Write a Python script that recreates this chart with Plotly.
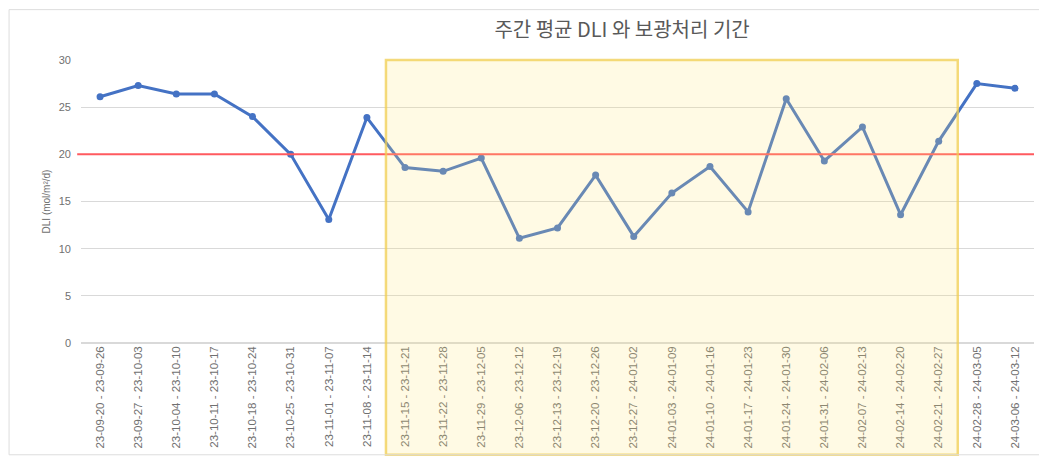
import plotly.graph_objects as go

weeks = [
    "23-09-20 - 23-09-26", "23-09-27 - 23-10-03", "23-10-04 - 23-10-10", "23-10-11 - 23-10-17",
    "23-10-18 - 23-10-24", "23-10-25 - 23-10-31", "23-11-01 - 23-11-07", "23-11-08 - 23-11-14",
    "23-11-15 - 23-11-21", "23-11-22 - 23-11-28", "23-11-29 - 23-12-05", "23-12-06 - 23-12-12",
    "23-12-13 - 23-12-19", "23-12-20 - 23-12-26", "23-12-27 - 24-01-02", "24-01-03 - 24-01-09",
    "24-01-10 - 24-01-16", "24-01-17 - 24-01-23", "24-01-24 - 24-01-30", "24-01-31 - 24-02-06",
    "24-02-07 - 24-02-13", "24-02-14 - 24-02-20", "24-02-21 - 24-02-27", "24-02-28 - 24-03-05",
    "24-03-06 - 24-03-12",
]
dli = [26.1, 27.3, 26.4, 26.4, 24.0, 20.0, 13.1, 23.9,
       18.6, 18.2, 19.6, 11.1, 12.2, 17.8, 11.3, 15.9,
       18.7, 13.9, 25.9, 19.3, 22.9, 13.6, 21.4, 27.5, 27.0]
threshold = 20
y_ticks = [0, 5, 10, 15, 20, 25, 30]
period_start = "23-11-15 - 23-11-21"
period_end = "24-02-21 - 24-02-27"

title_text = "주간 평균 DLI 와 보광처리 기간"
y_title = "DLI (mol/m²/d)"

fig = go.Figure()
fig.add_trace(go.Scatter(
    x=weeks, y=dli, mode="lines+markers",
    line=dict(color="#4472C4", width=3),
    marker=dict(size=7, color="#4472C4"),
    showlegend=False,
))

i0 = weeks.index(period_start)
i1 = weeks.index(period_end)

fig.add_shape(type="line", xref="paper", yref="y", x0=-0.004, x1=1, y0=threshold, y1=threshold,
              line=dict(color="#FF5A5F", width=2), layer="above")
fig.add_shape(type="rect", xref="x", yref="paper", x0=i0 - 0.5, x1=i1 + 0.5, y0=-0.395, y1=1,
              fillcolor="rgba(255,232,120,0.2)", line=dict(color="rgba(240,205,80,0.75)", width=2.5),
              layer="above")
# outer chart border
fig.add_shape(type="rect", xref="paper", yref="paper", x0=-0.0755, x1=1.03, y0=-0.395, y1=1.178,
              line=dict(color="#DDDDDD", width=1), fillcolor="rgba(0,0,0,0)")

fig.update_layout(
    width=1039, height=453,
    margin=dict(l=73, r=13, t=52, b=115),
    paper_bgcolor="white", plot_bgcolor="white",
    title=dict(text=title_text, x=0.591, xanchor="center", y=0.951, yanchor="middle",
               font=dict(family="Noto Sans CJK KR", size=20, color="#595959")),
    font=dict(family="Liberation Sans", color="#595959"),
)
fig.update_xaxes(
    type="category", tickangle=-90, tickfont=dict(size=11.5, color="#707070"),
    showgrid=False, showline=False, ticks="", range=[-0.5, len(weeks) - 0.5],
)
fig.update_yaxes(
    range=[0, 30], tickvals=y_ticks, showgrid=True, gridcolor="#D9D9D9", gridwidth=1,
    zeroline=True, zerolinecolor="#D9D9D9", tickfont=dict(size=11, color="#707070"),
    ticklabelstandoff=9,
    title=dict(text=y_title, font=dict(size=10, color="#707070"), standoff=6),
)

fig.write_html("out.html")
